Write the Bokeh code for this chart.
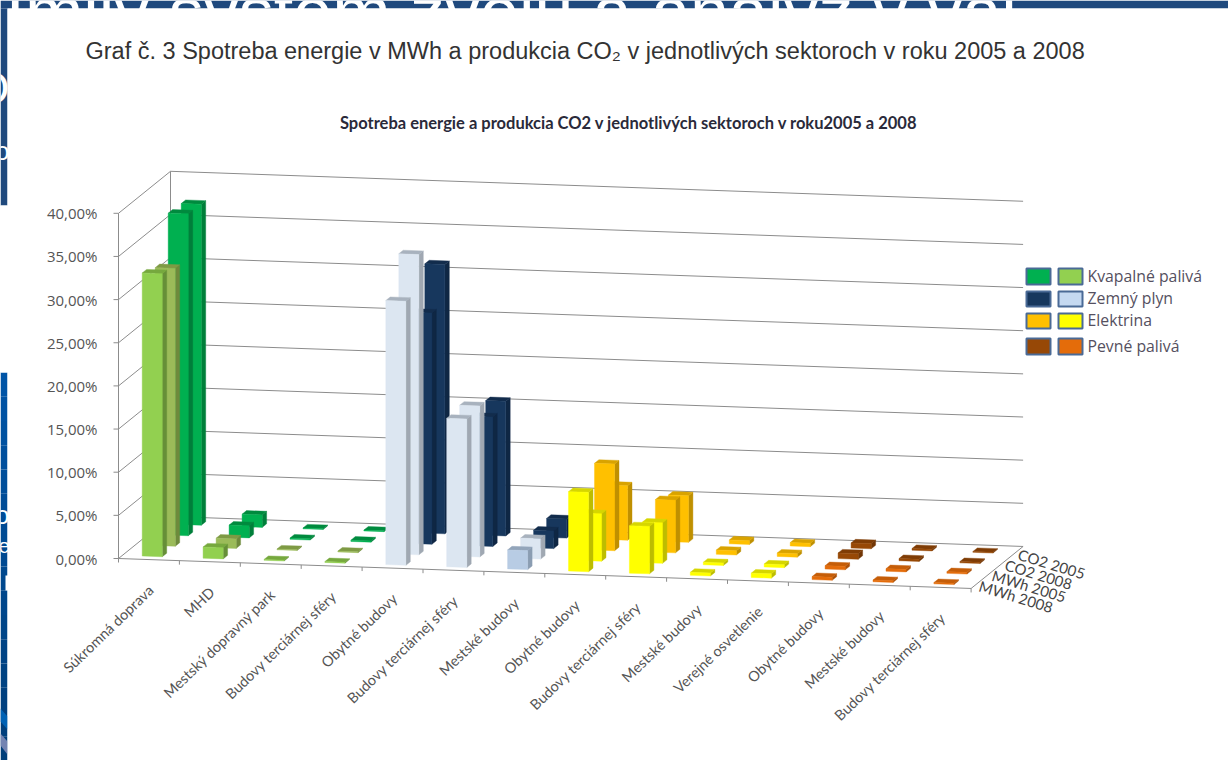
from bokeh.plotting import figure
from bokeh.models import ColumnDataSource, Range1d
from bokeh.core.properties import value
from bokeh.embed import file_html
from bokeh.resources import INLINE
import math

# ---- data -----------------------------------------------------------------
categories = ["Súkromná doprava", "MHD", "Mestský dopravný park", "Budovy terciárnej sféry",
              "Obytné budovy", "Budovy terciárnej sféry", "Mestské budovy", "Obytné budovy",
              "Budovy terciárnej sféry", "Mestské budovy", "Verejné osvetlenie", "Obytné budovy",
              "Mestské budovy", "Budovy terciárnej sféry"]
depth_labels = ["MWh 2008", "MWh 2005", "CO2 2008", "CO2 2005"]
mwh_2008 = [32.8, 1.3, 0.10, 0.10, 30.6, 17.2, 2.2, 9.2, 5.5, 0.35, 0.50, 0.35, 0.20, 0.15]
mwh_2005 = [32.2, 1.1, 0.10, 0.10, 34.8, 17.5, 2.35, 5.5, 4.7, 0.30, 0.35, 0.40, 0.30, 0.20]
co2_2008 = [37.3, 1.4, 0.15, 0.15, 26.8, 15.0, 2.05, 10.05, 6.1, 0.50, 0.40, 0.65, 0.25, 0.15]
co2_2005 = [37.2, 1.45, 0.10, 0.10, 31.2, 15.6, 2.2, 6.3, 5.4, 0.45, 0.40, 0.60, 0.20, 0.10]
series = [mwh_2008, mwh_2005, co2_2008, co2_2005]
fuel_of_category = [0, 0, 0, 0, 1, 1, 1, 2, 2, 2, 2, 3, 3, 3]
y_ticks = [0, 5, 10, 15, 20, 25, 30, 35, 40]
y_tick_labels = ["0,00%", "5,00%", "10,00%", "15,00%", "20,00%", "25,00%", "30,00%", "35,00%", "40,00%"]
legend_labels = ["Kvapalné palivá", "Zemný plyn", "Elektrina", "Pevné palivá"]
title = "Graf č. 3 Spotreba energie v MWh a produkcia CO₂ v jednotlivých sektoroch v roku 2005 a 2008"
subtitle = "Spotreba energie a produkcia CO2 v jednotlivých sektoroch v roku2005 a 2008"
slide_title = "Imily systém zvelu a analýz v val"

# front, side, top colours per fuel group, per depth row
palette = {
    0: [("#92D050", "#668F38", "#76A83E"), ("#9BBB59", "#6E8A3C", "#7E9A44"),
        ("#00B050", "#007F3A", "#008A3E"), ("#00B050", "#007F3A", "#008A3E")],
    1: [("#DCE6F1", "#A0A8B2", "#A8B2BE"), ("#DCE6F1", "#A0A8B2", "#A8B2BE"),
        ("#17375D", "#0F2744", "#122C4C"), ("#17375D", "#0F2744", "#122C4C")],
    2: [("#FFFF00", "#BDBD00", "#D6D600"), ("#FFFF00", "#BDBD00", "#D6D600"),
        ("#FFC000", "#BF9000", "#D9A300"), ("#FFC000", "#BF9000", "#D9A300")],
    3: [("#E46C0A", "#AC5108", "#C55D08"), ("#E46C0A", "#AC5108", "#C55D08"),
        ("#974806", "#713605", "#7F3C05"), ("#974806", "#713605", "#7F3C05")],
}
legend_colors = [("#00B050", "#92D050"), ("#17375D", "#C5D9F1"), ("#FFC000", "#FFFF00"), ("#974806", "#E46C0A")]
mestske_front = [("#B8CCE4", "#8B9DB2", "#93A5BA"), ("#DCE6F1", "#A0A8B2", "#A8B2BE")]

# ---- oblique projection of the chart's 3-D space onto the page -------------
X0, Y0 = 118.0, 558.0
EX_X, EX_Y = 60.9, 2.14
EZ_X, EZ_Y = 13.0, -10.5
V_SCALE = 8.63
N_CAT, N_DEPTH, V_MAX = len(categories), len(series), y_ticks[-1]


def pr(i, j, v=0.0):
    return X0 + EX_X * i + EZ_X * j, Y0 + EX_Y * i + EZ_Y * j - V_SCALE * v


p = figure(width=1228, height=760, output_backend="svg", toolbar_location=None,
           x_range=Range1d(0, 1228), y_range=Range1d(760, 0), min_border=0,
           background_fill_color="white", border_fill_color="white", outline_line_color=None)
p.axis.visible = False
p.grid.visible = False
p.styles = {"position": "absolute", "left": "0px", "top": "0px"}

# ---- slide behind the chart ------------------------------------------------
p.quad(left=[0], right=[1228], top=[0], bottom=[8], fill_color="#1F497D", line_color=None)
p.quad(left=[0], right=[7], top=[8], bottom=[205], fill_color="#1F497D", line_color=None)
n_steps = 16
for s in range(n_steps):
    t = s / (n_steps - 1)
    col = "#%02x%02x%02x" % (0, int(84 - 22 * t), int(166 - 44 * t))
    p.quad(left=[0], right=[7], top=[372 + s * 388 / n_steps], bottom=[372 + (s + 1) * 388 / n_steps],
           fill_color=col, line_color=None)
p.patches(xs=[[0, 7, 7, 0], [0, 7, 7, 0]], ys=[[708, 716, 729, 721], [733, 741, 754, 745]],
          fill_color=["#0062B4", "#7484B2"], line_color=None)
sl = dict(text_color="white", text_font=value("Liberation Sans"))
p.text(x=[5], y=[11], text=[slide_title], text_font_size="70px", text_baseline="alphabetic", **sl)
p.text(x=[9, 9, 9, 9], y=[87, 150, 514, 545], text=["O", "o", "o", "e"], text_align="right",
       text_baseline="middle", text_font_size=["46px", "26px", "26px", "20px"], **sl)
p.quad(left=[7], right=[1228], top=[8], bottom=[760], fill_color="white", line_color=None)
p.quad(left=[0], right=[7], top=[205], bottom=[372], fill_color="white", line_color=None)
p.quad(left=[5], right=[8], top=[575], bottom=[590], fill_color="white", line_color=None)

# ---- gridlines and walls ---------------------------------------------------
GRID = "#8C8C8C"
gx, gy = [], []
for v in y_ticks:
    a, b, c = pr(0, 0, v), pr(0, N_DEPTH, v), pr(N_CAT, N_DEPTH, v)
    gx.append([a[0], b[0], c[0]])
    gy.append([a[1], b[1], c[1]])
    gx.append([a[0] - 5, a[0]])
    gy.append([a[1], a[1]])
a, b = pr(0, 0, 0), pr(0, 0, V_MAX)
gx.append([a[0], b[0]]); gy.append([a[1], b[1]])
a, b = pr(0, N_DEPTH, 0), pr(0, N_DEPTH, V_MAX)
gx.append([a[0], b[0]]); gy.append([a[1], b[1]])
a, b = pr(0, 0, 0), pr(N_CAT, 0, 0)
gx.append([a[0], b[0]]); gy.append([a[1], b[1]])
a, b = pr(N_CAT, 0, 0), pr(N_CAT, N_DEPTH, 0)
gx.append([a[0], b[0]]); gy.append([a[1], b[1]])
for i in range(N_CAT + 1):
    a = pr(i, 0, 0)
    gx.append([a[0], a[0]]); gy.append([a[1], a[1] + 4])
p.multi_line(xs=gx, ys=gy, line_color=GRID, line_width=1)

# ---- bars, drawn back to front --------------------------------------------
BAR_W, D0, D1 = 0.33, 0.3, 0.64
xs, ys, fills = [], [], []
for j in range(N_DEPTH - 1, -1, -1):
    for i in range(N_CAT - 1, -1, -1):
        v = series[j][i]
        cols = palette[fuel_of_category[i]][j]
        if i == 6 and j < 2:
            cols = mestske_front[j]
        l, r = i + 0.49 - BAR_W / 2, i + 0.49 + BAR_W / 2
        faces = [
            ([(r, D0, 0), (r, D1, 0), (r, D1, v), (r, D0, v)], cols[1]),
            ([(l, D0, v), (r, D0, v), (r, D1, v), (l, D1, v)], cols[2]),
            ([(l, D0, 0), (r, D0, 0), (r, D0, v), (l, D0, v)], cols[0]),
        ]
        for corners, col in faces:
            pts = [pr(c[0], j + c[1], c[2]) for c in corners]
            xs.append([q[0] for q in pts])
            ys.append([q[1] for q in pts])
            fills.append(col)
p.patches(xs="xs", ys="ys", fill_color="fills", line_color="fills", line_width=0.4,
          source=ColumnDataSource(dict(xs=xs, ys=ys, fills=fills)))

# ---- texts ----------------------------------------------------------------
LAB = "#555555"
p.text(x=[pr(0, 0, 0)[0] - 21] * len(y_ticks), y=[pr(0, 0, v)[1] for v in y_ticks], text=y_tick_labels,
       text_align="right", text_baseline="middle", text_font=value("Open Sans"), text_font_size="15px",
       text_color=LAB)
cat_pts = [pr(i + 0.5, 0, 0) for i in range(N_CAT)]
p.text(x=[q[0] + 2 for q in cat_pts], y=[q[1] + 28 for q in cat_pts], text=categories, angle=math.radians(44),
       text_align="right", text_baseline="middle", text_font=value("Lato"), text_font_size="14.5px",
       text_color=LAB)
dep_pts = [pr(N_CAT, j + 0.5, 0) for j in range(N_DEPTH)]
p.text(x=[q[0] + 2 for q in dep_pts], y=[q[1] + 2 for q in dep_pts], text=depth_labels, angle=math.radians(-17),
       text_align="left", text_baseline="middle", text_font=value("Lato"), text_font_size="15px",
       text_color="#444444")
p.text(x=[85], y=[50], text=[title], text_baseline="middle", text_font=value("Liberation Sans"),
       text_font_size="23.5px", text_color="#333333")
p.text(x=[628.5], y=[122], text=[subtitle], text_align="center", text_baseline="middle",
       text_font=value("Lato"), text_font_size="16.5px", text_font_style="bold", text_color="#2a2a3a")

# ---- legend ----------------------------------------------------------------
legend_top = [268, 291, 313, 338]
legend_bot = [284, 306, 328, 354]
for k, (c1, c2) in enumerate(legend_colors):
    p.quad(left=[1026, 1058], right=[1050, 1082], top=[legend_top[k]] * 2, bottom=[legend_bot[k]] * 2,
           fill_color=[c1, c2], line_color="#4A6A96", line_width=2)
p.text(x=[1087] * 4, y=[(a + b) / 2 - 1 for a, b in zip(legend_top, legend_bot)], text=legend_labels,
       text_baseline="middle", text_font=value("Open Sans"), text_font_size="15.8px", text_color="#555060")

open("out.html", "w").write(file_html(p, INLINE))
